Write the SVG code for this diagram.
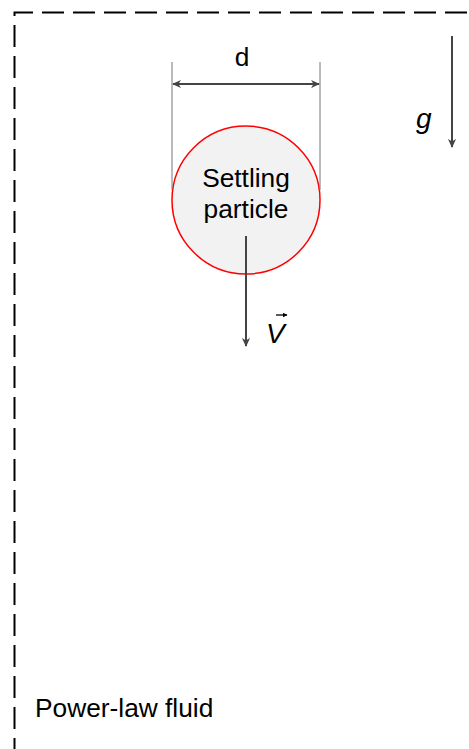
<svg xmlns="http://www.w3.org/2000/svg" width="469" height="749" viewBox="0 0 469 749">
<style>
.t{font-family:"Liberation Sans",Arial,sans-serif;font-size:26.3px;fill:#000}
.i{font-style:italic}
.ln{stroke:#444;stroke-width:2;fill:none}
.ext{stroke:#777;stroke-width:1;fill:none}
</style>
<defs>
<marker id="ah" viewBox="0 0 10 10" refX="9" refY="5" markerWidth="9" markerHeight="9" markerUnits="userSpaceOnUse" orient="auto-start-reverse">
<path d="M0,0.5 L10,5 L0,9.5 L3,5 Z" fill="#444"/>
</marker>
<marker id="sm" viewBox="0 0 10 10" refX="9" refY="5" markerWidth="5" markerHeight="5" markerUnits="userSpaceOnUse" orient="auto">
<path d="M0,0 L10,5 L0,10 Z" fill="#000"/>
</marker>
</defs>
<g id="fluid">
<path d="M14.5,760 V12.5 H480" fill="none" stroke="#000" stroke-width="2" stroke-dasharray="22 9"/>
<text class="t" x="35" y="717">Power-law fluid</text>
</g>
<g id="particle">
<circle cx="246" cy="200" r="74" fill="#f2f2f2" stroke="#ff0000" stroke-width="1.5"/>
<text class="t" x="246" y="187" text-anchor="middle">Settling</text>
<text class="t" x="246" y="218" text-anchor="middle">particle</text>
</g>
<g id="labels">
<text class="t" x="242" y="66" text-anchor="middle">d</text>
<text class="t i" x="416" y="128" style="font-size:28px">g</text>
<text class="t i" x="266" y="343" style="font-size:28px">V</text>
</g>
<g id="connectors">
<line class="ext" x1="172" y1="62" x2="172" y2="190"/>
<line class="ext" x1="320" y1="62" x2="320" y2="190"/>
<line class="ln" x1="173" y1="84" x2="319" y2="84" marker-start="url(#ah)" marker-end="url(#ah)"/>
<line class="ln" x1="452" y1="36" x2="452" y2="147" marker-end="url(#ah)"/>
<line class="ln" x1="246" y1="236" x2="246" y2="346" marker-end="url(#ah)"/>
<line x1="276" y1="315" x2="287" y2="315" stroke="#000" stroke-width="1.3" marker-end="url(#sm)"/>
</g>
</svg>
